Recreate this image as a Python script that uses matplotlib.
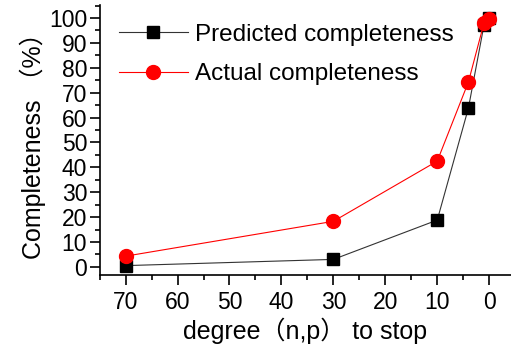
import matplotlib
matplotlib.use('Agg')
import matplotlib.pyplot as plt
from matplotlib.ticker import MultipleLocator

plt.rcParams['font.family'] = ['Liberation Sans', 'Noto Sans CJK SC', 'DejaVu Sans']

# Data
degree = [70, 30, 10, 4, 1, 0]
predicted = [0.5, 3.0, 18.8, 63.8, 97.2, 100.0]
actual = [4.3, 18.3, 42.5, 74.3, 98.0, 99.8]

fig = plt.figure(figsize=(5.11, 3.47), dpi=100)
ax = fig.add_axes([0.195, 0.208, 0.805, 0.778])

# Two series, black squares and red circles
ax.plot(degree, predicted, color='#333333', lw=0.8, marker='s', ms=9,
        mfc='black', mec='black', label='Predicted completeness')
ax.plot(degree, actual, color='red', lw=0.8, marker='o', ms=10,
        mfc='red', mec='red', label='Actual completeness')

ax.set_xlim(75, -4.2)
ax.set_ylim(-3.2, 105.3)
ax.xaxis.set_major_locator(MultipleLocator(10))
ax.xaxis.set_minor_locator(MultipleLocator(5))
ax.yaxis.set_major_locator(MultipleLocator(10))
ax.yaxis.set_minor_locator(MultipleLocator(5))

for s in ['top', 'right']:
    ax.spines[s].set_visible(False)
for s in ['left', 'bottom']:
    ax.spines[s].set_linewidth(1.2)

ax.tick_params(which='major', direction='out', length=7, width=1.2, labelsize=16.5)
ax.tick_params(which='minor', direction='out', length=3.5, width=1.2)
ax.tick_params(axis='x', pad=5)
ax.tick_params(axis='y', pad=2)

ax.set_xlabel('degree（n,p） to stop', fontsize=18, labelpad=2)
ax.set_ylabel('Completeness （%）', fontsize=18, labelpad=2)

ax.legend(loc='upper left', bbox_to_anchor=(-0.005, 1.012), frameon=False,
          fontsize=17.5, handlelength=2.8, labelspacing=0.72, handletextpad=0.3)

plt.savefig('out.png', dpi=100)
